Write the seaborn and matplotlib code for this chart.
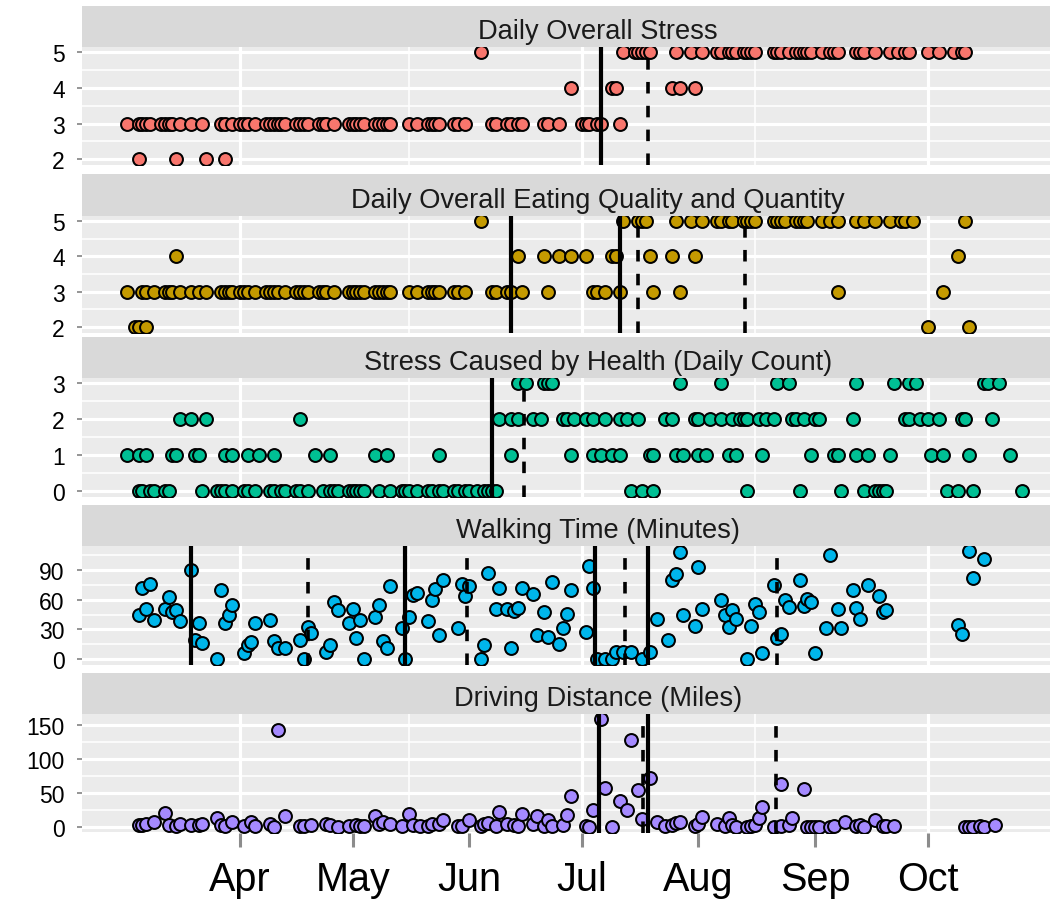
import matplotlib
matplotlib.use("Agg")
import matplotlib.pyplot as plt
import matplotlib.dates as mdates
import matplotlib.ticker as mticker
import seaborn as sns
import numpy as np
import pandas as pd

# day offsets are counted from 1 March
start_date = "2015-03-01"

panel_titles = [
    "Daily Overall Stress",
    "Daily Overall Eating Quality and Quantity",
    "Stress Caused by Health (Daily Count)",
    "Walking Time (Minutes)",
    "Driving Distance (Miles)",
]
panel_colors = ["#F8766D", "#C49A00", "#00C094", "#00B6EB", "#A58AFF"]

# --- Daily Overall Stress: days at each level
stress_lvl2 = [4, 14, 22, 27]
stress_lvl3 = [1, 4, 5, 6, 7, 10, 11, 12, 13, 15, 18, 21, 26, 27, 29, 31, 32, 33, 35,
               38, 39, 40, 41, 42, 43, 46, 47, 48, 49, 52, 53, 54, 56, 60, 61, 62, 63,
               64, 67, 68, 69, 70, 71, 76, 78, 81, 82, 83, 84, 88, 89, 91, 98, 99, 102,
               103, 105, 106, 112, 113, 116, 122, 123, 124, 126, 127, 132]
stress_lvl4 = [119, 130, 131, 146, 148, 152]
stress_lvl5 = [95, 133, 136, 137, 138, 139, 140, 147, 151, 154, 158, 159, 161, 162, 163,
               165, 166, 167, 168, 173, 174, 175, 177, 179, 180, 181, 182, 183, 186, 188,
               189, 190, 195, 196, 197, 200, 204, 206, 208, 209, 214, 217, 221, 223, 224]

# --- Daily Overall Eating Quality and Quantity
eating_lvl2 = [3, 4, 6, 214, 225]
eating_lvl3 = [1, 5, 6, 8, 11, 12, 13, 15, 18, 20, 22, 26, 27, 28, 29, 31, 32, 33, 35,
               38, 39, 40, 41, 43, 46, 47, 48, 49, 52, 53, 54, 56, 60, 61, 62, 63, 64,
               67, 68, 69, 70, 71, 76, 78, 81, 82, 83, 84, 88, 89, 91, 98, 99, 102, 103,
               106, 113, 125, 126, 128, 132, 141, 148, 190, 218]
eating_lvl4 = [14, 105, 112, 116, 119, 123, 130, 131, 140, 146, 152, 222]
eating_lvl5 = [95, 133, 137, 138, 139, 147, 151, 154, 158, 159, 161, 162, 165, 166, 167,
               168, 173, 174, 175, 176, 179, 180, 181, 182, 186, 188, 190, 195, 197, 200,
               204, 207, 208, 210, 224]

# --- Stress Caused by Health (Daily Count)
health_lvl0 = [4, 5, 7, 8, 11, 12, 21, 25, 26, 27, 29, 32, 33, 35, 39, 40, 42, 43, 46,
               47, 49, 53, 55, 56, 57, 60, 61, 62, 63, 64, 68, 71, 74, 75, 76, 78, 81,
               82, 84, 85, 88, 89, 91, 92, 94, 96, 97, 98, 99, 135, 138, 141, 166, 180,
               191, 197, 200, 201, 202, 203, 219, 222, 226, 239]
health_lvl1 = [1, 4, 6, 13, 14, 19, 20, 27, 29, 33, 36, 40, 51, 55, 67, 70, 84, 103, 119,
               125, 127, 130, 132, 140, 141, 147, 149, 153, 155, 161, 163, 170, 183, 189,
               190, 195, 198, 204, 215, 218, 225, 236]
health_lvl2 = [15, 18, 22, 47, 100, 103, 105, 109, 111, 117, 118, 120, 123, 125, 128,
               132, 134, 137, 144, 146, 152, 153, 156, 159, 162, 164, 165, 166, 169, 171,
               173, 178, 179, 181, 184, 185, 194, 208, 209, 212, 214, 217, 223, 224, 231]
health_lvl3 = [105, 107, 112, 113, 114, 148, 159, 174, 177, 195, 205, 209, 211, 229, 230, 233]

# --- Walking Time (Minutes)
walk_day = [4, 5, 6, 7, 8, 11, 12, 13, 14, 15, 18, 19, 20, 21, 25, 26, 27, 28, 29, 32,
            33, 34, 35, 39, 40, 41, 43, 47, 48, 49, 50, 54, 55, 56, 57, 60, 61, 62, 63,
            64, 67, 68, 69, 70, 71, 74, 75, 76, 77, 78, 81, 82, 83, 84, 85, 89, 90, 91,
            92, 95, 96, 97, 99, 100, 102, 103, 104, 105, 106, 109, 110, 112, 113, 114,
            116, 117, 118, 119, 123, 124, 125, 126, 128, 130, 131, 133, 135, 138, 140,
            142, 145, 146, 147, 148, 149, 152, 153, 154, 159, 160, 161, 162, 163, 166,
            167, 168, 169, 170, 173, 174, 175, 176, 177, 180, 181, 182, 183, 184, 187,
            188, 190, 191, 194, 195, 196, 198, 201, 202, 203, 222, 223, 225, 226, 229]
walk_min = [45, 72, 51, 76, 40, 51, 63, 48, 50, 39, 90, 19, 37, 16, 0, 70, 37, 45, 55, 6,
            14, 17, 37, 40, 18, 11, 11, 19, 0, 32, 26, 7, 14, 58, 50, 37, 51, 21, 40,
            0, 43, 55, 18, 11, 74, 31, 0, 43, 65, 67, 39, 60, 71, 24, 80, 31, 76, 64,
            74, 0, 14, 87, 51, 72, 51, 11, 49, 52, 72, 66, 24, 48, 22, 78,
            15, 31, 46, 70, 27, 94, 72, 0, 0, 0, 7, 7, 7, 0, 7,
            41, 19, 80, 86, 108, 45, 34, 93, 51, 60, 45, 32, 50, 41, 0,
            34, 56, 48, 6, 75, 21, 25, 60, 53, 80, 54, 61, 58, 6, 31,
            105, 51, 31, 70, 52, 41, 75, 64, 48, 50, 35, 25, 109, 82, 101]

# --- Driving Distance (Miles)
drive_day = [4, 5, 6, 8, 11, 12, 14, 15, 18, 20, 21, 25, 26, 27, 29, 32, 34, 35, 39, 40,
             41, 43, 47, 48, 50, 54, 55, 57, 60, 62, 63, 64, 67, 68, 69, 71, 74, 76, 77,
             79, 81, 82, 84, 85, 89, 90, 92, 95, 96, 97, 99, 100, 102, 104, 105, 106,
             109, 110, 112, 113, 114, 117, 118, 119, 123, 124, 125, 127, 128, 130, 132,
             134, 135, 137, 138, 140, 142, 144, 146, 147, 148, 152, 153, 154, 158, 160,
             161, 162, 163, 166, 167, 168, 169, 170, 173, 175, 175, 177, 178, 181, 182,
             183, 184, 185, 188, 189, 192, 195, 196, 197, 200, 202, 203, 205, 224, 225,
             226, 228, 229, 232]
drive_mi = [3, 3, 5, 8, 21, 3, 1, 5, 3, 3, 5, 13, 3, 1, 8, 1, 8, 1, 5, 0,
            143, 17, 1, 2, 3, 5, 3, 0, 1, 3, 2, 1, 17, 5, 8, 5, 1, 20, 3,
            1, 1, 5, 5, 10, 1, 1, 10, 1, 5, 6, 2, 22, 5, 3, 1, 20,
            5, 16, 1, 11, 1, 3, 18, 46, 1, 0, 25, 159, 58, 0, 38,
            25, 128, 55, 12, 72, 8, 1, 3, 6, 8, 1, 5, 15, 5, 1,
            13, 3, 0, 0, 1, 3, 13, 30, 0, 63, 2, 3, 13, 56, 0,
            0, 0, 0, 0, 1, 8, 1, 3, 0, 11, 1, 1, 1, 0, 0,
            0, 1, 0, 3]

# change points (solid) and secondary change points (dashed), day offsets
solid_days = [[127], [103, 132], [98], [18, 75, 125.5, 139.5], [126.5, 139.5]]
dashed_days = [[139.5], [137, 165.5], [106.5], [49, 91.5, 133.5, 174], [138.3, 173.5]]

# ---------------------------------------------------------------- build table
rows = []
for p, levels in enumerate([
        {2: stress_lvl2, 3: stress_lvl3, 4: stress_lvl4, 5: stress_lvl5},
        {2: eating_lvl2, 3: eating_lvl3, 4: eating_lvl4, 5: eating_lvl5},
        {0: health_lvl0, 1: health_lvl1, 2: health_lvl2, 3: health_lvl3}]):
    for lvl, days in levels.items():
        for d in days:
            rows.append((p, d, lvl))
for d, v in zip(walk_day, walk_min):
    rows.append((3, d, v))
for d, v in zip(drive_day, drive_mi):
    rows.append((4, d, v))
df = pd.DataFrame(rows, columns=["panel", "day", "value"])
base = mdates.date2num(pd.Timestamp(start_date))
df["x"] = base + df["day"]

# ---------------------------------------------------------------- figure
W, H = 1050, 903
fig = plt.figure(figsize=(W / 100, H / 100), dpi=100)
plt.rcParams["font.family"] = ["Liberation Sans", "DejaVu Sans"]

# (strip top, panel top, panel bottom) in pixels
layout = [(7, 48, 165.5), (175, 216.5, 333.5), (338, 379, 497.5),
          (506, 547, 665.5), (674, 715, 833.5)]
x_left, x_right = 82, 1114
px_per_day = 3.758
day0_px = 123.5
xlim = (base + (x_left - day0_px) / px_per_day, base + (x_right - day0_px) / px_per_day)
y_steps = [1, 1, 1, 30, 50]

for p in range(5):
    st, pt, pb = layout[p]
    ax = fig.add_axes([x_left / W, 1 - pb / H, (x_right - x_left) / W, (pb - pt) / H])
    sax = fig.add_axes([x_left / W, 1 - pt / H, (x_right - x_left) / W, (pt - st) / H])

    sub = df[df["panel"] == p]
    ax.set_facecolor("#EBEBEB")
    sns.scatterplot(data=sub, x="x", y="value", ax=ax, color=panel_colors[p],
                    edgecolor="black", linewidth=1.45, s=86, legend=False, zorder=3)
    for d in solid_days[p]:
        ax.axvline(base + d, color="black", lw=3.0, zorder=4)
    for d in dashed_days[p]:
        ax.axvline(base + d, color="black", lw=2.6, ls=(0, (3.2, 3.4)), zorder=4)

    lo, hi = sub["value"].min(), sub["value"].max()
    pad = (hi - lo) * 0.05
    ax.set_ylim(lo - pad, hi + pad)
    ax.set_xlim(*xlim)

    ax.xaxis.set_major_locator(mdates.MonthLocator(bymonth=[4, 7, 10]))
    ax.xaxis.set_minor_locator(mdates.MonthLocator(bymonth=[5, 8], bymonthday=16))
    ax.yaxis.set_major_locator(mticker.MultipleLocator(y_steps[p]))
    ax.yaxis.set_minor_locator(mticker.AutoMinorLocator(2))
    ax.grid(which="major", color="white", lw=2.3)
    ax.grid(which="minor", color="white", lw=1.1)
    ax.set_axisbelow(True)
    for s in ax.spines.values():
        s.set_visible(False)
    ax.tick_params(axis="x", which="both", length=0, labelbottom=False)
    ax.tick_params(axis="y", which="minor", length=0)
    ax.tick_params(axis="y", which="major", length=3.5, width=1.3, color="#8C8C8C",
                   labelsize=16.5, labelcolor="black", pad=9)
    ax.set_xlabel("")
    ax.set_ylabel("")

    sax.set_facecolor("#D9D9D9")
    sax.set_xticks([])
    sax.set_yticks([])
    for s in sax.spines.values():
        s.set_visible(False)
    sax.text(0.5, 0.21, panel_titles[p], transform=sax.transAxes, ha="center",
             va="baseline", fontsize=19.6, color="#1A1A1A")

    if p == 4:
        sec = ax.secondary_xaxis("bottom")
        sec.xaxis.set_major_locator(mdates.MonthLocator(bymonth=range(4, 11)))
        sec.xaxis.set_major_formatter(mdates.DateFormatter("%b"))
        sec.tick_params(length=10, width=2.2, color="#8C8C8C", labelsize=28.5,
                        labelcolor="black", pad=10)
        sec.spines["bottom"].set_visible(False)

fig.savefig("out.png", dpi=100)
